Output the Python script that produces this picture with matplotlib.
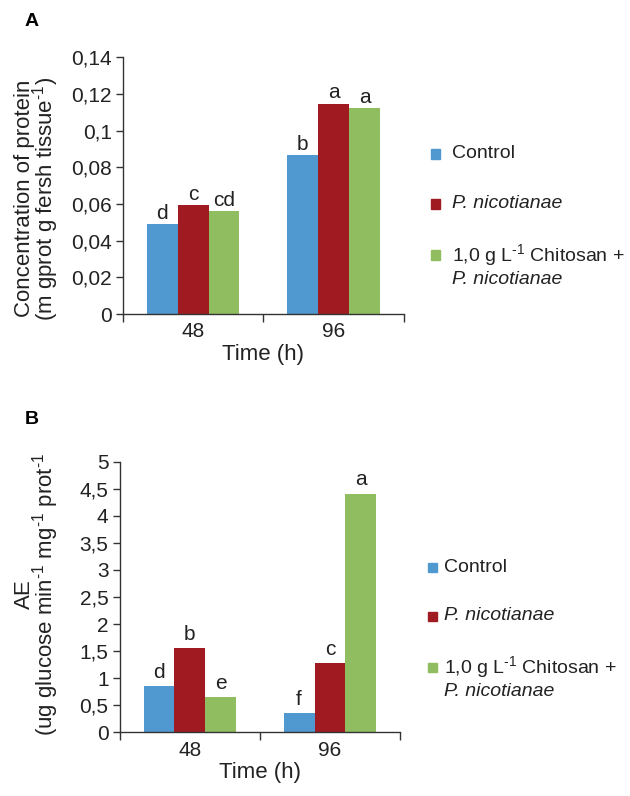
import numpy as np
import matplotlib
matplotlib.use("Agg")
import matplotlib.pyplot as plt
from matplotlib.patches import Rectangle

plt.rcParams["font.family"] = ["Liberation Sans", "DejaVu Sans"]
plt.rcParams["mathtext.fontset"] = "custom"
plt.rcParams["mathtext.rm"] = "Liberation Sans"
plt.rcParams["mathtext.it"] = "Liberation Sans:italic"

# --- data ---
times = ["48", "96"]
series = ["Control", "P. nicotianae", "1,0 g L-1 Chitosan + P. nicotianae"]
colors = ["#4F98D0", "#A01B21", "#8FBD60"]

protein = [[0.0489, 0.0865],   # Control
           [0.0595, 0.1147],   # P. nicotianae
           [0.0562, 0.1122]]   # Chitosan + P. nicotianae
protein_letters = [["d", "b"], ["c", "a"], ["cd", "a"]]
protein_ticks = [0, 0.02, 0.04, 0.06, 0.08, 0.1, 0.12, 0.14]
protein_ticklabels = ["0", "0,02", "0,04", "0,06", "0,08", "0,1", "0,12", "0,14"]

ae = [[0.856, 0.363],
      [1.558, 1.275],
      [0.647, 4.41]]
ae_letters = [["d", "f"], ["b", "c"], ["e", "a"]]
ae_ticks = [0, 0.5, 1, 1.5, 2, 2.5, 3, 3.5, 4, 4.5, 5]
ae_ticklabels = ["0", "0,5", "1", "1,5", "2", "2,5", "3", "3,5", "4", "4,5", "5"]

# legend text: (first line, italic?, optional second italic line)
legend_lines = [("Control", False, None),
                ("P. nicotianae", True, None),
                (r"1,0 g L$^{\text{-1}}$ Chitosan +", False, "P. nicotianae")]

fig = plt.figure(figsize=(6.3, 7.96), dpi=100)
ax1 = fig.add_axes([0.195, 0.6055, 0.446, 0.3225])
ax2 = fig.add_axes([0.190, 0.080, 0.445, 0.340])

W, H = 630, 796
fs = 15
leg_fs = 14
txt = "#222222"
width = 0.22


def draw_panel(ax, data, letters, ticks, ticklabels, ymax, ylabel, letter_off):
    x = np.arange(len(times))
    for i, (vals, col) in enumerate(zip(data, colors)):
        xs = x + (i - 1) * width
        ax.bar(xs, vals, width=width, color=col, edgecolor="none")
        for xi, v, lab in zip(xs, vals, letters[i]):
            ax.annotate(lab, (xi, v), xytext=(0, letter_off), textcoords="offset points",
                        ha="center", va="bottom", fontsize=fs, color=txt)
    ax.set_xlim(-0.5, len(times) - 0.5)
    ax.set_ylim(0, ymax)
    ax.set_yticks(ticks)
    ax.set_yticklabels(ticklabels, fontsize=fs, color=txt)
    ax.set_xticks(x)
    ax.set_xticklabels(times, fontsize=fs, color=txt)
    ax.set_xticks([-0.5, 0.5, 1.5], minor=True)
    ax.tick_params(axis="x", which="major", length=0, pad=6)
    ax.tick_params(axis="x", which="minor", length=6, width=1, color="#333333")
    ax.tick_params(axis="y", length=5, width=1, color="#333333", pad=3)
    for s in ["top", "right"]:
        ax.spines[s].set_visible(False)
    for s in ["left", "bottom"]:
        ax.spines[s].set_color("#333333")
        ax.spines[s].set_linewidth(1)
    ax.set_xlabel("Time (h)", fontsize=16, labelpad=2, color=txt)
    ax.set_ylabel(ylabel, fontsize=16, linespacing=0.78, color=txt)


draw_panel(ax1, protein, protein_letters, protein_ticks, protein_ticklabels, 0.14,
           "Concentration of protein\n" + r"(m gprot g fersh tissue$^{\text{-1}}$)", 1)
ax1.yaxis.set_label_coords(-0.221, 0.45)

draw_panel(ax2, ae, ae_letters, ae_ticks, ae_ticklabels, 5,
           "AE\n" + r"(ug glucose min$^{\text{-1}}$ mg$^{\text{-1}}$ prot$^{\text{-1}}$", 3)
ax2.yaxis.set_label_coords(-0.211, 0.51)

fig.text(25 / W, 1 - 22 / H, "A", fontsize=14, fontweight="bold", ha="left", va="center")
fig.text(25 / W, 1 - 420 / H, "B", fontsize=14, fontweight="bold", ha="left", va="center")


def draw_legend(x_sq, x_txt, ys):
    for (lab, ital, extra), col, y in zip(legend_lines, colors, ys):
        fig.patches.append(Rectangle((x_sq / W, 1 - (y + 4.5) / H), 9 / W, 9 / H,
                                     transform=fig.transFigure, color=col))
        fig.text(x_txt / W, 1 - y / H, lab, fontsize=leg_fs, ha="left", va="center",
                 style="italic" if ital else "normal", color=txt)
        if extra:
            fig.text(x_txt / W, 1 - (y + 25) / H, extra, fontsize=leg_fs, ha="left",
                     va="center", style="italic", color=txt)


draw_legend(431, 452, [154, 204, 255])
draw_legend(428, 444, [567, 616, 667])

fig.savefig("out.png", dpi=100)
